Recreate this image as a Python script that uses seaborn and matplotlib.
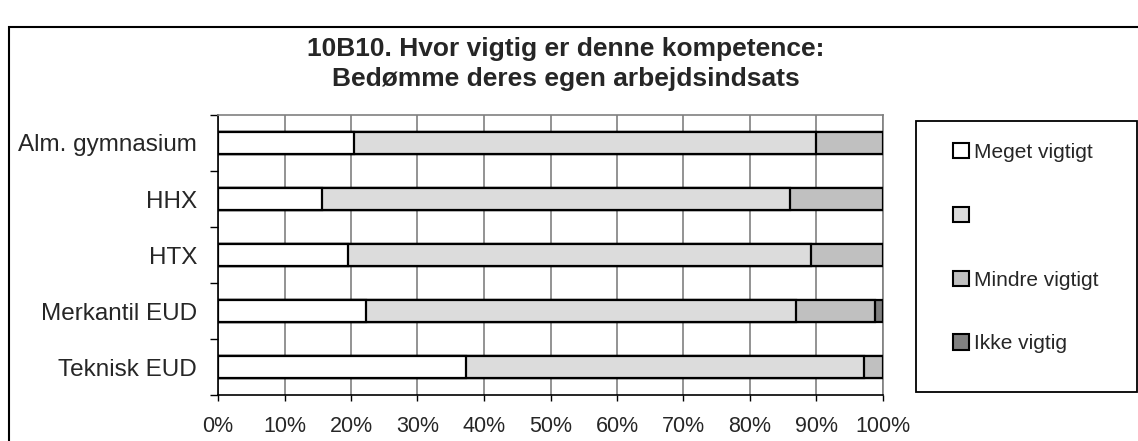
import matplotlib
matplotlib.use("Agg")
import pandas as pd
import matplotlib.pyplot as plt
import seaborn as sns
from matplotlib.patches import Patch, Rectangle
from matplotlib.ticker import PercentFormatter

# values (percent of respondents)
schools = ["Alm. gymnasium", "HHX", "HTX", "Merkantil EUD", "Teknisk EUD"]
meget_vigtigt = [20.4, 15.6, 19.5, 22.2, 37.3]
vigtigt = [69.5, 70.4, 69.7, 64.7, 59.8]
mindre_vigtigt = [10.1, 14.0, 10.8, 11.9, 2.9]
ikke_vigtig = [0.0, 0.0, 0.0, 1.2, 0.0]
legend_labels = ["Meget vigtigt", " ", "Mindre vigtigt", "Ikke vigtig"]
colors = ["#ffffff", "#dcdcdc", "#c0c0c0", "#808080"]
x_ticks = [0, 10, 20, 30, 40, 50, 60, 70, 80, 90, 100]
title = "10B10. Hvor vigtig er denne kompetence:\nBedømme deres egen arbejdsindsats"

sns.set_style("white")
plt.rcParams["font.family"] = ["Liberation Sans", "DejaVu Sans"]

W, H = 1138, 441
df = pd.DataFrame({"skole": schools, "s1": meget_vigtigt, "s2": vigtigt,
                   "s3": mindre_vigtigt, "s4": ikke_vigtig})
layers = ["s1", "s2", "s3", "s4"]
cum = df[layers].cumsum(axis=1)
for col in layers:
    df["c" + col] = cum[col]

fig = plt.figure(figsize=(W / 100, H / 100), dpi=100)
ax = fig.add_axes([218 / W, 1 - 395 / H, (883 - 218) / W, (395 - 115) / H])

# stacked bars: draw the cumulative totals from longest to shortest
for col, c in reversed(list(zip(layers, colors))):
    sns.barplot(data=df, x="c" + col, y="skole", orient="h", color=c,
                saturation=1, edgecolor="black", linewidth=1.6, width=0.39,
                ax=ax, zorder=3)

ax.set_xlim(0, 100)
ax.set_ylim(4.5, -0.5)
ax.set_xlabel("")
ax.set_ylabel("")
ax.set_xticks(x_ticks)
ax.xaxis.set_major_formatter(PercentFormatter(decimals=0))
ax.xaxis.grid(True, color="#808080", linewidth=1.2)
ax.set_axisbelow(True)

ax.set_yticks([-0.5, 0.5, 1.5, 2.5, 3.5, 4.5], minor=True)
ax.tick_params(axis="y", which="major", length=0, pad=15, labelsize=17.5)
ax.tick_params(axis="y", which="minor", left=True, length=6, width=1,
               color="black", direction="out")
ax.tick_params(axis="x", which="major", bottom=True, length=4, width=1,
               color="black", direction="out", pad=11, labelsize=15.5)

for side in ["left", "bottom"]:
    ax.spines[side].set_color("black")
    ax.spines[side].set_linewidth(1.2)
for side in ["top", "right"]:
    ax.spines[side].set_color("#808080")
    ax.spines[side].set_linewidth(1.2)

fig.text(0.497, 1 - 64 / H, title, ha="center", va="center",
         fontsize=19, fontweight="bold", linespacing=1.32)

# legend box and entries
fig.patches.append(Rectangle((916 / W, 1 - 392 / H), 221 / W, 271 / H,
                             transform=fig.transFigure, fill=False,
                             edgecolor="black", linewidth=1.3))
handles = [Patch(facecolor=c, edgecolor="black", linewidth=1.5) for c in colors]
fig.legend(handles, legend_labels, loc="upper left",
           bbox_to_anchor=(953 / W, 1 - 143 / H), frameon=False, fontsize=15,
           handlelength=0.75, handleheight=0.75, handletextpad=0.25,
           labelspacing=2.15, borderpad=0, borderaxespad=0)

# outer chart frame (cropped at the right and bottom)
fig.patches.append(Rectangle((9 / W, -0.5), 2, 1.5 - 27 / H,
                             transform=fig.transFigure, fill=False,
                             edgecolor="black", linewidth=1.5, clip_on=False))

fig.savefig("out.png", dpi=100)
